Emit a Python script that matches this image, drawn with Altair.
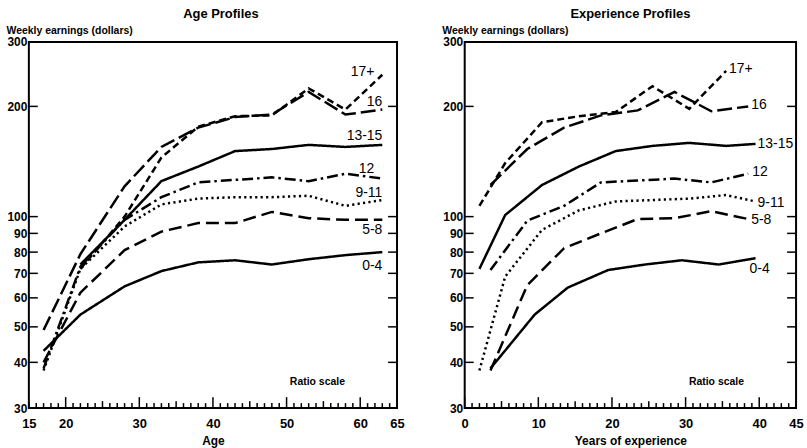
import altair as alt
import pandas as pd

FONT = "Liberation Sans"
GROUPS = ["0-4", "5-8", "9-11", "12", "13-15", "16", "17+"]
DASHES = [[1, 0], [13, 6], [2.2, 3.3], [11, 4, 2.5, 4], [1, 0], [15, 5], [7, 4]]

# ---- Age profiles: weekly earnings (dollars) by age, per years of schooling
AGES = [17, 22, 28, 33, 38, 43, 48, 53, 58, 63]
AGE_0_4 = [43, 54, 64.5, 71, 75, 76, 74, 76.5, 78.5, 80]
AGE_5_8 = [40, 62, 81, 91, 96, 96, 103, 99, 98, 98]
AGE_9_11 = [38, 72, 94, 108, 112, 113, 113, 114, 107, 111]
AGE_12 = [38.5, 73, 98, 113, 124, 126, 128, 125, 131, 127]
AGE_13_15 = [None, 74, 98, 125, 137, 151, 153, 157, 155, 157]
AGE_16 = [49, 79, 121, 155, 175, 187, 190, 219, 190, 196]
AGE_17P = [None, 72, 100, 145, 176, 188, 189, 224, 196, 244]

# ---- Experience profiles: weekly earnings by years of experience
EXP_0_4 = [3.5, 9.5, 14, 19.5, 24.5, 29.5, 34.5, 39.5]
EARN_0_4 = [38.5, 54, 64, 71.5, 74, 76, 74, 77]
EXP_5_8 = [3.5, 8.5, 13.5, 18.5, 23.5, 28.5, 33.5, 38.5]
EARN_5_8 = [38, 65, 82, 90, 98.5, 99, 103.5, 98.5]
EXP_9_11 = [2, 5.5, 10.5, 15.5, 20.5, 25.5, 30.5, 35.5, 39.5]
EARN_9_11 = [38, 68.6, 92, 104, 110, 111, 112, 114.5, 110]
EXP_12 = [3.5, 8.5, 13.5, 18.5, 23.5, 28.5, 33.5, 38.5]
EARN_12 = [71.5, 97.5, 107, 124, 125.5, 127, 124, 131]
EXP_13_15 = [2, 5.5, 10.5, 15.5, 20.5, 25.5, 30.5, 35.5, 39.5]
EARN_13_15 = [72, 101, 122, 137, 151, 156, 159, 156, 158]
EXP_16 = [3.5, 8.5, 13.5, 18.5, 23.5, 28.5, 33.5, 38.5]
EARN_16 = [122, 153, 175, 189, 195, 219, 194, 200]
EXP_17P = [2, 5.5, 10.5, 15.5, 20.5, 25.5, 30.5, 35.5]
EARN_17P = [107, 140, 181, 188, 193, 227, 197, 250]

Y_LABELS = [30, 40, 50, 60, 70, 80, 90, 100, 200, 300]
Y_TICKS = [40, 50, 60, 70, 80, 90, 100, 200]
AGE_LABELS = [15, 20, 30, 40, 50, 60, 65]
EXP_LABELS = [0, 10, 20, 30, 40, 45]

W_AGE, W_EXP, H = 370, 333, 368


def long_table(xs_list, ys_list):
    rows = []
    for g, xs, ys in zip(GROUPS, xs_list, ys_list):
        for x, y in zip(xs, ys):
            if y is not None:
                rows.append({"g": g, "x": x, "y": y})
    return pd.DataFrame(rows)


age_df = long_table([AGES] * 7, [AGE_0_4, AGE_5_8, AGE_9_11, AGE_12, AGE_13_15, AGE_16, AGE_17P])
exp_df = long_table([EXP_0_4, EXP_5_8, EXP_9_11, EXP_12, EXP_13_15, EXP_16, EXP_17P],
                    [EARN_0_4, EARN_5_8, EARN_9_11, EARN_12, EARN_13_15, EARN_16, EARN_17P])

Y_SCALE = alt.Scale(type="log", domain=[30, 300], nice=False)
Y_AXIS = alt.Axis(values=Y_LABELS, format="d", ticks=False, domain=False,
                  grid=False, labelPadding=2, labelFont=FONT,
                  labelFontSize=12, labelFontWeight="bold", labelColor="black",
                  titleAngle=0, titleAlign="left", titleBaseline="bottom",
                  titleX=-23, titleY=-6, titleFont=FONT, titleFontSize=10.5,
                  titleFontWeight="bold", titleColor="black")


def panel(df, x0, x1, width, title, xtitle, xlabels, label_offsets, label_align, title_dx):
    xs = alt.Scale(domain=[x0, x1], nice=False, zero=False)
    x_axis = alt.Axis(values=xlabels,
                      ticks=False, domain=False, grid=False, labelFlush=False,
                      labelPadding=10, labelFont=FONT, labelFontSize=13,
                      labelFontWeight="bold", labelColor="black",
                      titleFont=FONT, titleFontSize=12, titleFontWeight="bold",
                      titlePadding=5, titleColor="black")
    X = alt.X("x:Q", scale=xs, title=xtitle, axis=x_axis)
    Y = alt.Y("y:Q", scale=Y_SCALE, title="Weekly earnings (dollars)", axis=Y_AXIS)

    lines = alt.Chart(df).mark_line(color="black", strokeWidth=2.5, clip=True).encode(
        x=X, y=Y,
        strokeDash=alt.StrokeDash("g:N", scale=alt.Scale(domain=GROUPS, range=DASHES),
                                  legend=None),
        detail="g:N",
    )

    # inward tick marks along the bottom frame
    minor = pd.DataFrame({"x": [v for v in range(x0, x1 + 1) if v % 5]})
    mid = pd.DataFrame({"x": [v for v in range(x0, x1 + 1) if v % 5 == 0 and v % 10]})
    major = pd.DataFrame({"x": [v for v in range(x0, x1 + 1) if v % 10 == 0]})
    tick_layers = []
    for tdf, length in [(minor, 5), (mid, 7), (major, 11)]:
        tick_layers.append(
            alt.Chart(tdf).mark_rule(color="black", strokeWidth=1.5).encode(
                x=X, y=alt.value(H), y2=alt.value(H - length)))
    # inward tick marks on the left and right frames
    ydf = pd.DataFrame({"y": Y_TICKS})
    for a, b in [(0, 9), (width - 9, width)]:
        tick_layers.append(
            alt.Chart(ydf).mark_rule(color="black", strokeWidth=1.5).encode(
                y=Y, x=alt.value(a), x2=alt.value(b)))

    # group labels at the end of each curve
    ends = df.groupby("g", sort=False).tail(1)
    label_layers = []
    for g in GROUPS:
        dx, dy = label_offsets[g]
        label_layers.append(
            alt.Chart(ends[ends["g"] == g]).mark_text(
                font=FONT, fontSize=14, color="black", align=label_align[g],
                baseline="middle", dx=dx, dy=dy).encode(
                x=X, y=Y, text="g:N"))

    note = alt.Chart(pd.DataFrame({"t": ["Ratio scale"]})).mark_text(
        font=FONT, fontSize=10.5, fontWeight="bold", color="black").encode(
        x=alt.value(width - 80), y=alt.value(H - 26), text="t:N")

    return alt.layer(lines, *tick_layers, *label_layers, note).properties(
        width=width, height=H,
        title=alt.TitleParams(title, font=FONT, fontSize=13, fontWeight="bold",
                              color="black", offset=5, dx=title_dx))


left_offsets = {"17+": (-8, -3), "16": (0, -8), "13-15": (0, -9), "12": (-8, -10),
                "9-11": (0, -7), "5-8": (0, 10), "0-4": (0, 14)}
left_align = {g: "right" for g in GROUPS}
right_offsets = {"17+": (3, -2), "16": (3, -1), "13-15": (2, 0), "12": (4, -2),
                 "9-11": (2, 2), "5-8": (3, 1), "0-4": (-6, 11)}
right_align = {g: "left" for g in GROUPS}

age_panel = panel(age_df, 15, 65, W_AGE, "Age Profiles", "Age", AGE_LABELS,
                  left_offsets, left_align, 8)
exp_panel = panel(exp_df, 0, 45, W_EXP, "Experience Profiles", "Years of experience",
                  EXP_LABELS, right_offsets, right_align, 0)

chart = alt.hconcat(age_panel, exp_panel, spacing=35).properties(
    padding={"left": 5, "top": 6, "right": 2, "bottom": 2},
    background="white",
).configure_view(stroke="black", strokeWidth=2)

chart.save("out.html", embed_options={"renderer": "svg", "actions": False})
